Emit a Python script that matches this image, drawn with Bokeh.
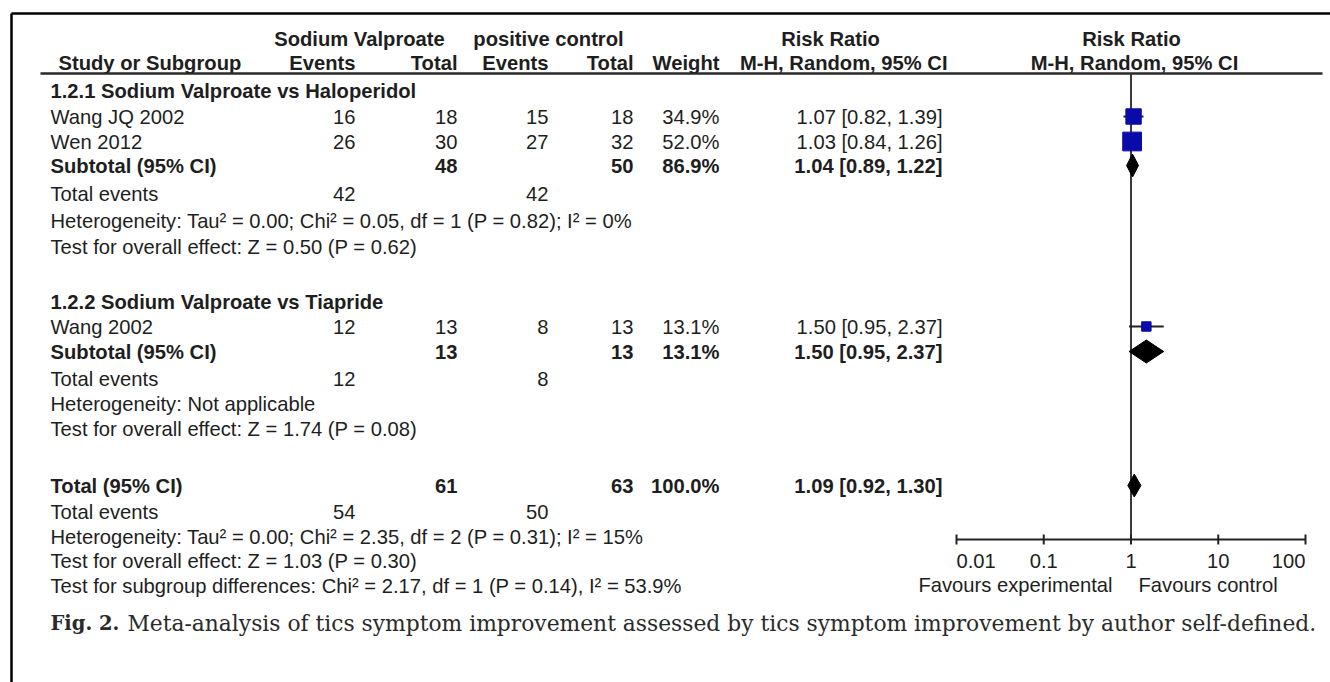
import math
from bokeh.plotting import figure
from bokeh.models import Range1d, LogScale, ColumnDataSource
from bokeh.core.properties import value
from bokeh.embed import file_html
from bokeh.resources import INLINE

# ---------------- data ----------------
group_titles = ["1.2.1 Sodium Valproate vs Haloperidol", "1.2.2 Sodium Valproate vs Tiapride"]
studies = [["Wang JQ 2002", "Wen 2012"], ["Wang 2002"]]
exp_events = [[16, 26], [12]]
exp_total = [[18, 30], [13]]
ctl_events = [[15, 27], [8]]
ctl_total = [[18, 32], [13]]
weights = [[34.9, 52.0], [13.1]]
rr = [[1.07, 1.03], [1.50]]
rr_lo = [[0.82, 0.84], [0.95]]
rr_hi = [[1.39, 1.26], [2.37]]

sub_exp_total = [48, 13]
sub_ctl_total = [50, 13]
sub_weight = [86.9, 13.1]
sub_rr = [1.04, 1.50]
sub_lo = [0.89, 0.95]
sub_hi = [1.22, 2.37]
sub_exp_events = [42, 12]
sub_ctl_events = [42, 8]
sub_het = ["Heterogeneity: Tau\u00b2 = 0.00; Chi\u00b2 = 0.05, df = 1 (P = 0.82); I\u00b2 = 0%",
           "Heterogeneity: Not applicable"]
sub_test = ["Test for overall effect: Z = 0.50 (P = 0.62)",
            "Test for overall effect: Z = 1.74 (P = 0.08)"]

tot_exp_total = 61
tot_ctl_total = 63
tot_weight = 100.0
tot_rr, tot_lo, tot_hi = 1.09, 0.92, 1.30
tot_exp_events = 54
tot_ctl_events = 50
tot_het = "Heterogeneity: Tau\u00b2 = 0.00; Chi\u00b2 = 2.35, df = 2 (P = 0.31); I\u00b2 = 15%"
tot_test = "Test for overall effect: Z = 1.03 (P = 0.30)"
subgroup_test = "Test for subgroup differences: Chi\u00b2 = 2.17, df = 1 (P = 0.14), I\u00b2 = 53.9%"

axis_ticks = [0.01, 0.1, 1, 10, 100]
axis_tick_labels = ["0.01", "0.1", "1", "10", "100"]
favours_left = "Favours experimental"
favours_right = "Favours control"
caption_bold = "Fig. 2."
caption_text = "Meta-analysis of tics symptom improvement assessed by tics symptom improvement by author self-defined."

# ---------------- layout ----------------
W, H = 1330, 682
FONT = value("Liberation Sans")
FS = "20.2px"
TXT = "#1e1e1e"

p = figure(width=W, height=H, output_backend="svg", toolbar_location=None,
           x_range=Range1d(0, W), y_range=Range1d(H, 0),
           min_border=0, x_axis_location=None, y_axis_location=None)
p.grid.visible = False
p.outline_line_color = None
p.background_fill_color = "white"
p.border_fill_color = "white"

# log scale for forest part, aligned so 0.01 -> AX_L and 100 -> AX_R (px)
AX_L, AX_R = 956, 1305
dec = (AX_R - AX_L) / 4.0
L0 = math.log10(axis_ticks[0]) - AX_L / dec
L1 = L0 + W / dec
p.extra_x_ranges = {"rr": Range1d(10 ** L0, 10 ** L1)}
p.extra_x_scales = {"rr": LogScale()}

# columns (px)
C_STUDY = 50
C_EXP_EV = 355
C_EXP_TOT = 457
C_CTL_EV = 548
C_CTL_TOT = 633
C_WEIGHT = 719
C_RR = 942

def txt(xs, ys, texts, align="left", bold=False, size=FS, font=FONT, color=TXT):
    src = ColumnDataSource(dict(x=xs, y=ys, t=texts))
    p.text(x="x", y="y", text="t", source=src, text_align=align,
           text_baseline="middle", text_font=font, text_font_size=size,
           text_font_style="bold" if bold else "normal", text_color=color)

# frame lines
p.segment(x0=[11], y0=[13], x1=[W], y1=[13], line_color="black", line_width=2.5)
p.segment(x0=[11], y0=[13], x1=[11], y1=[H], line_color="black", line_width=2.5)

# headers
Y_H1, Y_H2, Y_RULE = 38, 62, 73
txt([359, 548, 830], [Y_H1] * 3, ["Sodium Valproate", "positive control", "Risk Ratio"], "center", True)
txt([1131], [Y_H1], ["Risk Ratio"], "center", True)
txt([58], [Y_H2], ["Study or Subgroup"], "left", True)
txt([C_EXP_EV, C_EXP_TOT, C_CTL_EV, C_CTL_TOT, C_WEIGHT, 947], [Y_H2] * 6,
    ["Events", "Total", "Events", "Total", "Weight", "M-H, Random, 95% CI"], "right", True)
txt([1134], [Y_H2], ["M-H, Random, 95% CI"], "center", True)
p.segment(x0=[40], y0=[Y_RULE], x1=[1322], y1=[Y_RULE], line_color="#2a2a2a", line_width=2.5)

# row positions (px)
group_rows = [
    dict(title=90, studies=[116, 141], sub=165, ev=193, het=220, test=246),
    dict(title=301, studies=[326], sub=351, ev=378, het=403, test=428),
]
Y_TOT, Y_TOT_EV, Y_TOT_HET, Y_TOT_TEST, Y_SUBDIFF = 485, 511, 536, 560, 585
Y_AXIS = 539
Y_TICKLAB = 560
Y_FAV = 584
Y_CAP = 623

def ci(r, lo, hi):
    return "%.2f [%.2f, %.2f]" % (r, lo, hi)

sq_x, sq_y, sq_s = [], [], []
ci_x0, ci_x1, ci_y = [], [], []
dia_xs, dia_ys = [], []
DH = 11.5

for g in range(len(group_titles)):
    rows = group_rows[g]
    txt([C_STUDY], [rows["title"]], [group_titles[g]], "left", True)
    ys = rows["studies"]
    txt([C_STUDY] * len(ys), ys, studies[g], "left")
    txt([C_EXP_EV] * len(ys), ys, [str(v) for v in exp_events[g]], "right")
    txt([C_EXP_TOT] * len(ys), ys, [str(v) for v in exp_total[g]], "right")
    txt([C_CTL_EV] * len(ys), ys, [str(v) for v in ctl_events[g]], "right")
    txt([C_CTL_TOT] * len(ys), ys, [str(v) for v in ctl_total[g]], "right")
    txt([C_WEIGHT] * len(ys), ys, ["%.1f%%" % v for v in weights[g]], "right")
    txt([C_RR] * len(ys), ys, [ci(a, b, c) for a, b, c in zip(rr[g], rr_lo[g], rr_hi[g])], "right")
    for i, y in enumerate(ys):
        sq_x.append(rr[g][i]); sq_y.append(y); sq_s.append(2.6 * math.sqrt(weights[g][i]))
        ci_x0.append(rr_lo[g][i]); ci_x1.append(rr_hi[g][i]); ci_y.append(y)
    ys_ = rows["sub"]
    txt([C_STUDY], [ys_], ["Subtotal (95% CI)"], "left", True)
    txt([C_EXP_TOT, C_CTL_TOT, C_WEIGHT, C_RR], [ys_] * 4,
        [str(sub_exp_total[g]), str(sub_ctl_total[g]), "%.1f%%" % sub_weight[g],
         ci(sub_rr[g], sub_lo[g], sub_hi[g])], "right", True)
    dia_xs.append([sub_lo[g], sub_rr[g], sub_hi[g], sub_rr[g]])
    dia_ys.append([ys_, ys_ - DH, ys_, ys_ + DH])
    txt([C_STUDY], [rows["ev"]], ["Total events"], "left")
    txt([C_EXP_EV, C_CTL_EV], [rows["ev"]] * 2, [str(sub_exp_events[g]), str(sub_ctl_events[g])], "right")
    txt([C_STUDY, C_STUDY], [rows["het"], rows["test"]], [sub_het[g], sub_test[g]], "left")

# overall
txt([C_STUDY], [Y_TOT], ["Total (95% CI)"], "left", True)
txt([C_EXP_TOT, C_CTL_TOT, C_WEIGHT, C_RR], [Y_TOT] * 4,
    [str(tot_exp_total), str(tot_ctl_total), "%.1f%%" % tot_weight, ci(tot_rr, tot_lo, tot_hi)], "right", True)
dia_xs.append([tot_lo, tot_rr, tot_hi, tot_rr])
dia_ys.append([Y_TOT, Y_TOT - DH, Y_TOT, Y_TOT + DH])
txt([C_STUDY], [Y_TOT_EV], ["Total events"], "left")
txt([C_EXP_EV, C_CTL_EV], [Y_TOT_EV] * 2, [str(tot_exp_events), str(tot_ctl_events)], "right")
txt([C_STUDY] * 3, [Y_TOT_HET, Y_TOT_TEST, Y_SUBDIFF], [tot_het, tot_test, subgroup_test], "left")

# forest: vertical null line, axis
p.segment(x0=[1], y0=[Y_RULE], x1=[1], y1=[Y_AXIS], x_range_name="rr", line_color="#3a3a3a", line_width=2)
p.segment(x0=[axis_ticks[0]], y0=[Y_AXIS], x1=[axis_ticks[-1]], y1=[Y_AXIS], x_range_name="rr",
          line_color="#222222", line_width=2)
p.segment(x0=axis_ticks, y0=[Y_AXIS - 5] * 5, x1=axis_ticks, y1=[Y_AXIS + 5] * 5, x_range_name="rr",
          line_color="#222222", line_width=2)
tl_align = ["left", "center", "center", "center", "right"]
for t, lab, al in zip(axis_ticks, axis_tick_labels, tl_align):
    p.text(x=[t], y=[Y_TICKLAB], text=[lab], x_range_name="rr", text_align=al, text_baseline="middle",
           text_font=FONT, text_font_size=FS, text_color=TXT)
txt([1112], [Y_FAV], [favours_left], "right")
txt([1138], [Y_FAV], [favours_right], "left")

# CI lines, squares, diamonds
p.segment(x0=ci_x0, y0=ci_y, x1=ci_x1, y1=ci_y, x_range_name="rr", line_color="#222222", line_width=1.8)
p.scatter(x=sq_x, y=sq_y, size=sq_s, marker="square", x_range_name="rr",
          fill_color="#0a0aa8", line_color="#0a0aa8")
p.patches(xs=dia_xs, ys=dia_ys, x_range_name="rr", fill_color="black", line_color="black")

# caption
SERIF = value("DejaVu Serif")
txt([50], [Y_CAP], [caption_bold], "left", True, "19.5px", SERIF, "#2a2a2a")
txt([127], [Y_CAP], [caption_text], "left", False, "21.8px", SERIF, "#2a2a2a")

open("out.html", "w").write(file_html(p, INLINE))
